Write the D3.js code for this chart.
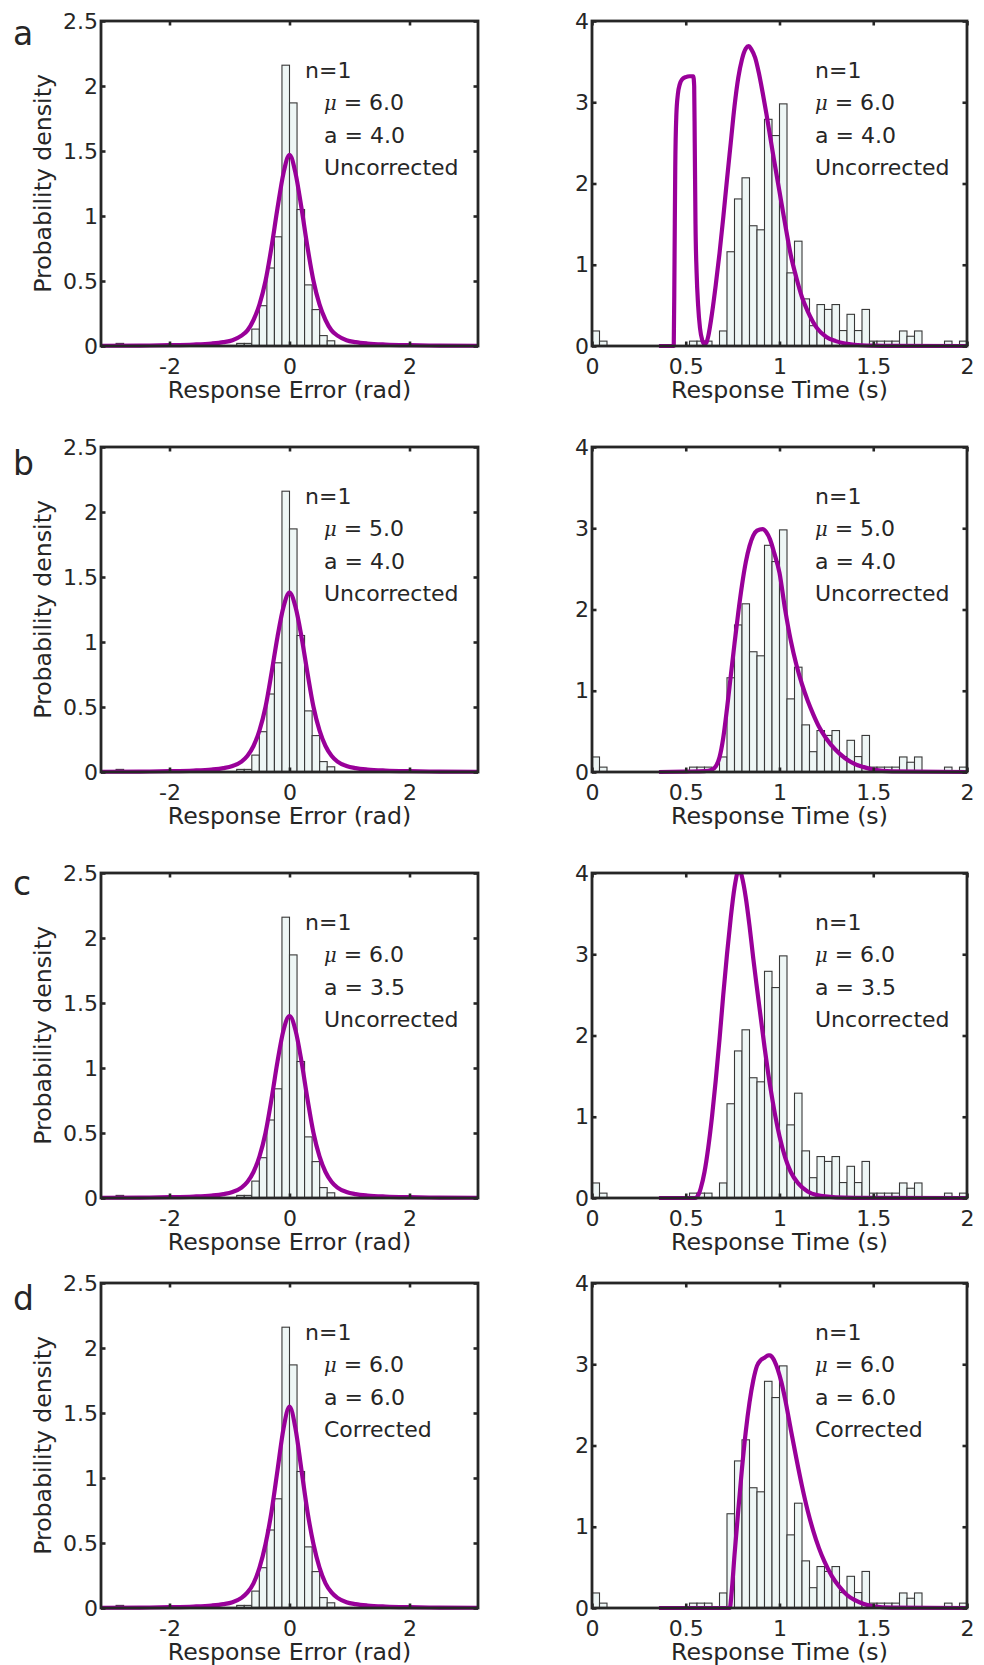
<!DOCTYPE html>
<html><head><meta charset="utf-8">
<script src="https://cdn.jsdelivr.net/npm/d3@7"></script>
<style>
body{margin:0;background:#fff}
svg text{font-family:"DejaVu Sans",sans-serif;fill:#262626}
</style>
</head><body>
<svg id="chart" width="984" height="1665"></svg>
<script>
// ---------------- DATA ----------------
const panelLabels = ["a", "b", "c", "d"];
const nLabels = ["n=1", "n=1", "n=1", "n=1"];
const muValues = ["6.0", "5.0", "6.0", "6.0"];
const aValues = ["4.0", "4.0", "3.5", "6.0"];
const corrLabels = ["Uncorrected", "Uncorrected", "Uncorrected", "Corrected"];

const errTicks = [-2, 0, 2];
const errYTicks = [0, 0.5, 1, 1.5, 2, 2.5];
const rtTicks = [0, 0.5, 1, 1.5, 2];
const rtYTicks = [0, 1, 2, 3, 4];

// histogram of response error: 50 bins spanning [-pi, pi]
const errDensity = [0, 0, 0.02, 0, 0, 0, 0, 0, 0, 0,
                    0, 0, 0, 0, 0, 0, 0, 0, 0.02, 0.02,
                    0.13, 0.31, 0.60, 0.84, 2.16, 1.87, 1.05, 0.47, 0.28, 0.08,
                    0.04, 0, 0, 0, 0, 0, 0, 0, 0, 0,
                    0, 0, 0, 0, 0, 0, 0, 0, 0, 0];
// histogram of response time: 50 bins spanning [0, 2] s
const rtDensity = [0.185, 0.06, 0, 0, 0, 0, 0, 0, 0, 0,
                   0, 0, 0, 0.06, 0.06, 0.06, 0, 0.185, 1.16, 1.81,
                   2.07, 1.48, 1.43, 2.79, 2.59, 2.98, 0.90, 1.29, 0.58, 0.25,
                   0.51, 0.45, 0.51, 0.19, 0.39, 0.19, 0.45, 0.06, 0.06, 0.06,
                   0.06, 0.185, 0.12, 0.185, 0, 0, 0, 0.06, 0, 0.06];

// model fits
const errFitA = [[-3.1416,0.002],[-2.5,0.003],[-2.0,0.006],[-1.6,0.011],[-1.3,0.019],[-1.1,0.03],[-0.95,0.045],[-0.8,0.08],[-0.7,0.12],[-0.6,0.2],[-0.5,0.32],[-0.4,0.5],[-0.3,0.76],[-0.2,1.06],[-0.1,1.33],[0,1.47],
  [0.1,1.33],[0.2,1.06],[0.3,0.76],[0.4,0.5],[0.5,0.32],[0.6,0.2],[0.7,0.12],[0.8,0.08],[0.95,0.045],[1.1,0.03],[1.3,0.019],[1.6,0.011],[2.0,0.006],[2.5,0.003],[3.1416,0.002]];
const errFitB = [[-3.1416,0.002],[-2.5,0.003],[-2.0,0.006],[-1.6,0.011],[-1.3,0.019],[-1.1,0.03],[-0.95,0.046],[-0.8,0.08],[-0.7,0.125],[-0.6,0.2],[-0.5,0.32],[-0.4,0.5],[-0.3,0.76],[-0.2,1.04],[-0.1,1.27],[0,1.38],
  [0.1,1.27],[0.2,1.04],[0.3,0.76],[0.4,0.5],[0.5,0.32],[0.6,0.2],[0.7,0.125],[0.8,0.08],[0.95,0.046],[1.1,0.03],[1.3,0.019],[1.6,0.011],[2.0,0.006],[2.5,0.003],[3.1416,0.002]];
const errFitC = [[-3.1416,0.002],[-2.5,0.003],[-2.0,0.006],[-1.6,0.011],[-1.3,0.019],[-1.1,0.03],[-0.95,0.046],[-0.8,0.08],[-0.7,0.125],[-0.6,0.2],[-0.5,0.32],[-0.4,0.5],[-0.3,0.76],[-0.2,1.05],[-0.1,1.29],[0,1.40],
  [0.1,1.29],[0.2,1.05],[0.3,0.76],[0.4,0.5],[0.5,0.32],[0.6,0.2],[0.7,0.125],[0.8,0.08],[0.95,0.046],[1.1,0.03],[1.3,0.019],[1.6,0.011],[2.0,0.006],[2.5,0.003],[3.1416,0.002]];
const errFitD = [[-3.1416,0.002],[-2.5,0.003],[-2.0,0.006],[-1.6,0.011],[-1.3,0.019],[-1.1,0.03],[-0.95,0.045],[-0.8,0.078],[-0.7,0.12],[-0.6,0.19],[-0.5,0.31],[-0.4,0.49],[-0.3,0.74],[-0.2,1.06],[-0.1,1.38],[0,1.55],
  [0.1,1.38],[0.2,1.06],[0.3,0.74],[0.4,0.49],[0.5,0.31],[0.6,0.19],[0.7,0.12],[0.8,0.078],[0.95,0.045],[1.1,0.03],[1.3,0.019],[1.6,0.011],[2.0,0.006],[2.5,0.003],[3.1416,0.002]];

const rtFitA = [[0.357,0],[0.436,0],[0.440,1.0],[0.444,2.2],[0.45,2.85],[0.458,3.1],[0.468,3.22],[0.48,3.28],[0.50,3.31],[0.52,3.32],[0.54,3.32],[0.545,3.2],[0.548,2.5],[0.552,1.5],[0.558,0.9],[0.566,0.5],[0.576,0.22],[0.588,0.07],[0.600,0.02],[0.61,0.04],[0.62,0.12],[0.64,0.40],[0.66,0.75],[0.68,1.14],[0.70,1.58],[0.72,2.05],[0.74,2.5],[0.76,2.95],[0.78,3.3],[0.80,3.53],[0.82,3.66],[0.836,3.69],[0.85,3.65],[0.87,3.55],[0.89,3.36],[0.91,3.12],[0.93,2.86],[0.95,2.58],[0.97,2.3],[1.0,1.9],[1.03,1.5],[1.06,1.12],[1.09,0.84],[1.12,0.6],[1.15,0.43],[1.2,0.22],[1.25,0.11],[1.3,0.06],[1.35,0.03],[1.4,0.015],[1.5,0.004],[1.6,0.001],[2.0,0]];
const rtFitB = [[0.357,0],[0.5,0.005],[0.6,0.01],[0.64,0.03],[0.66,0.07],[0.68,0.18],[0.70,0.42],[0.72,0.78],[0.74,1.18],[0.76,1.58],[0.78,1.96],[0.80,2.3],[0.82,2.58],[0.84,2.78],[0.86,2.91],[0.88,2.97],[0.91,2.99],[0.93,2.95],[0.95,2.86],[0.97,2.71],[1.0,2.45],[1.03,2.0],[1.06,1.62],[1.09,1.32],[1.12,1.08],[1.15,0.88],[1.18,0.71],[1.21,0.56],[1.25,0.41],[1.3,0.27],[1.35,0.17],[1.4,0.1],[1.45,0.06],[1.5,0.03],[1.6,0.008],[2.0,0]];
const rtFitC = [[0.357,0],[0.55,0],[0.57,0.05],[0.58,0.12],[0.60,0.32],[0.62,0.62],[0.64,1.0],[0.66,1.45],[0.68,1.95],[0.70,2.5],[0.72,3.0],[0.74,3.45],[0.76,3.82],[0.785,4.05],[0.80,3.95],[0.82,3.7],[0.84,3.35],[0.86,2.95],[0.88,2.58],[0.90,2.22],[0.92,1.86],[0.94,1.53],[0.96,1.24],[0.98,0.98],[1.0,0.76],[1.03,0.5],[1.06,0.32],[1.1,0.18],[1.15,0.08],[1.2,0.035],[1.3,0.008],[1.4,0.002],[2.0,0]];
const rtFitD = [[0.357,0],[0.735,0],[0.745,0.2],[0.76,0.65],[0.78,1.2],[0.80,1.72],[0.82,2.17],[0.84,2.53],[0.86,2.8],[0.88,2.98],[0.90,3.05],[0.92,3.08],[0.94,3.11],[0.95,3.11],[0.96,3.09],[0.99,2.94],[1.01,2.78],[1.03,2.57],[1.06,2.2],[1.09,1.84],[1.12,1.5],[1.15,1.2],[1.18,0.95],[1.21,0.74],[1.24,0.57],[1.28,0.39],[1.32,0.26],[1.36,0.16],[1.4,0.1],[1.45,0.05],[1.5,0.022],[1.6,0.005],[2.0,0]];

const errFits = [errFitA, errFitB, errFitC, errFitD];
const rtFits = [rtFitA, rtFitB, rtFitC, rtFitD];

// ---------------- LAYOUT ----------------
const svg = d3.select("#chart");
const PI = Math.PI;
const ink = "#262626", purple = "#990099";
const tops = [21, 447, 873, 1283];
const letterDy = [24, 28, 22, 27];
const H = 325;
const LX = [101, 478], RX = [592, 967];
const nBins = 50;
const tickFmt = d => String(d).replace("\u2212", "-");

function drawPlot(g, id, x, y, hist, fit, xt, yt, xlabel, ylabel, texts, nDx) {
  const [x0, x1] = x.range();
  const [yb, ytop] = y.range();
  const [d0, d1] = x.domain();
  const w = (d1 - d0) / nBins;

  // histogram
  g.append("g").selectAll("rect").data(hist).join("rect")
    .attr("x", (d, k) => x(d0 + k * w))
    .attr("width", (d, k) => x(d0 + (k + 1) * w) - x(d0 + k * w))
    .attr("y", d => y(d))
    .attr("height", d => yb - y(d))
    .attr("fill", d => d > 0 ? "#eef6f5" : "none")
    .attr("stroke", d => d > 0 ? "#383838" : "none")
    .attr("stroke-width", 1.1);

  // clip for fit
  g.append("clipPath").attr("id", id).append("rect")
    .attr("x", x0).attr("y", ytop).attr("width", x1 - x0).attr("height", yb - ytop + 6);

  const line = d3.line().x(d => x(d[0])).y(d => y(d[1])).curve(d3.curveMonotoneX);
  g.append("path").datum(fit)
    .attr("d", line)
    .attr("fill", "none")
    .attr("stroke", purple)
    .attr("stroke-width", 4.2)
    .attr("stroke-linejoin", "round")
    .attr("clip-path", `url(#${id})`);

  // axes with inward ticks
  const fs = 22;
  const ax = [
    g.append("g").attr("transform", `translate(0,${yb})`)
      .call(d3.axisBottom(x).tickValues(xt).tickSizeInner(-4.5).tickSizeOuter(0).tickPadding(12).tickFormat(tickFmt)),
    g.append("g").attr("transform", `translate(0,${ytop})`)
      .call(d3.axisTop(x).tickValues(xt).tickSizeInner(-4.5).tickSizeOuter(0).tickFormat("")),
    g.append("g").attr("transform", `translate(${x0},0)`)
      .call(d3.axisLeft(y).tickValues(yt).tickSizeInner(-4.5).tickSizeOuter(0).tickPadding(3).tickFormat(tickFmt)),
    g.append("g").attr("transform", `translate(${x1},0)`)
      .call(d3.axisRight(y).tickValues(yt).tickSizeInner(-4.5).tickSizeOuter(0).tickFormat(""))
  ];
  ax.forEach(a => {
    a.select(".domain").remove();
    a.attr("font-size", fs).attr("font-family", "DejaVu Sans");
    a.selectAll("line").attr("stroke", ink).attr("stroke-width", 2.6);
    a.selectAll("text").attr("fill", ink);
  });

  g.append("rect").attr("x", x0).attr("y", ytop).attr("width", x1 - x0).attr("height", yb - ytop)
    .attr("fill", "none").attr("stroke", ink).attr("stroke-width", 2.8);

  // axis labels
  g.append("text").attr("x", (x0 + x1) / 2).attr("y", yb + 52)
    .attr("text-anchor", "middle").attr("font-size", 23.6).text(xlabel);
  if (ylabel) {
    g.append("text").attr("transform", `translate(${x0 - 50},${(yb + ytop) / 2}) rotate(-90)`)
      .attr("text-anchor", "middle").attr("font-size", 23.6).text(ylabel);
  }

  // annotations
  const tx = x0 + 223;
  g.append("text").attr("x", x0 + nDx).attr("y", ytop + 56.5).attr("font-size", fs).text(texts[0]);
  const mu = g.append("text").attr("x", tx).attr("y", ytop + 89).attr("font-size", fs);
  mu.append("tspan").attr("font-family", "DejaVu Serif").attr("font-style", "italic").attr("font-size", 19.5).text("\u03bc");
  mu.append("tspan").text(" = " + texts[1]);
  g.append("text").attr("x", tx).attr("y", ytop + 121.5).attr("font-size", fs).text("a = " + texts[2]);
  g.append("text").attr("x", tx).attr("y", ytop + 154).attr("font-size", fs).text(texts[3]);
}

panelLabels.forEach((lab, i) => {
  const top = tops[i], bot = top + H;
  const g = svg.append("g");
  g.append("text").attr("x", 13).attr("y", top + letterDy[i]).attr("font-size", 33).text(lab);

  const xE = d3.scaleLinear().domain([-PI, PI]).range(LX);
  const yE = d3.scaleLinear().domain([0, 2.5]).range([bot, top]);
  drawPlot(g.append("g"), "clipE" + i, xE, yE, errDensity, errFits[i], errTicks, errYTicks,
    "Response Error (rad)", "Probability density",
    [nLabels[i], muValues[i], aValues[i], corrLabels[i]], 204);

  const xR = d3.scaleLinear().domain([0, 2]).range(RX);
  const yR = d3.scaleLinear().domain([0, 4]).range([bot, top]);
  drawPlot(g.append("g"), "clipR" + i, xR, yR, rtDensity, rtFits[i], rtTicks, rtYTicks,
    "Response Time (s)", null,
    [nLabels[i], muValues[i], aValues[i], corrLabels[i]], 223);
});
</script>
</body></html>
